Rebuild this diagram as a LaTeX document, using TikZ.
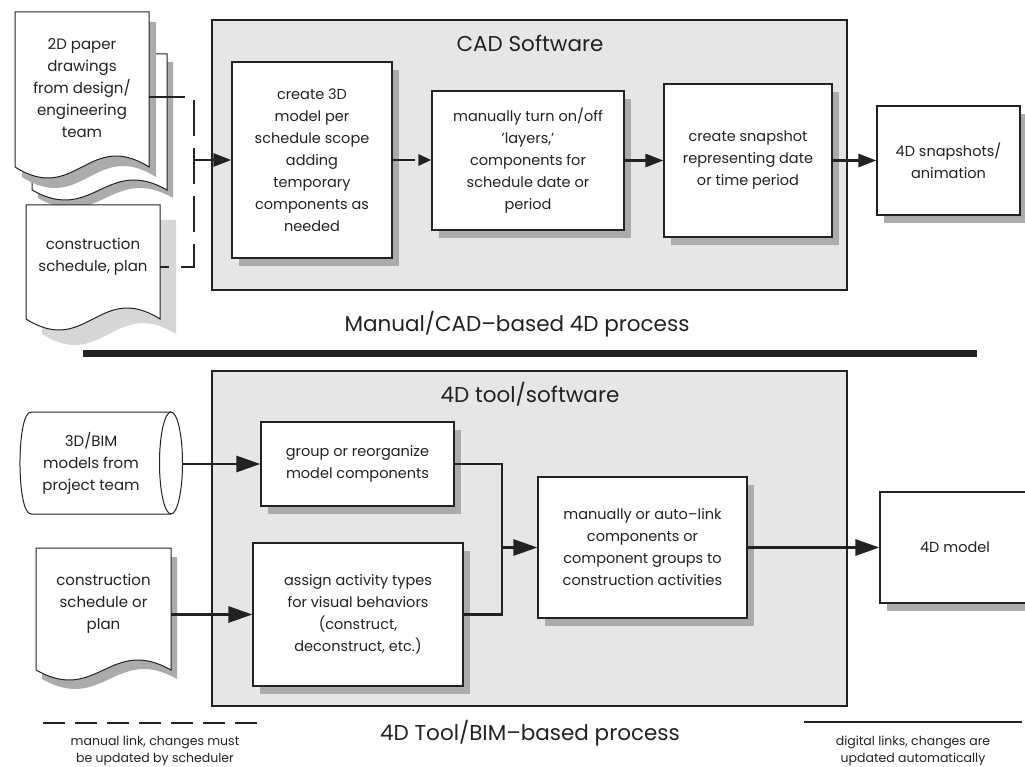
\documentclass[tikz,border=0pt]{standalone}
\usepackage{fontspec}
\setmainfont{Poppins}
\usetikzlibrary{arrows.meta,shadows,calc}
\definecolor{panel}{HTML}{E6E6E6}
\definecolor{shadowgray}{HTML}{ABABAB}
\definecolor{shadowlight}{HTML}{D6D6D6}
\definecolor{ink}{HTML}{222222}
% document outline: L, top, R, side-end y, amplitude
\newcommand\docpath[5]{(#1,#2) -- (#3,#2) -- (#3,#4) .. controls ({#3-0.45*(#3-#1)},{#4-3.46*#5}) and ({#1+0.45*(#3-#1)},{#4+3.46*#5}) .. (#1,#4) -- cycle}
\tikzset{
 box/.style={draw=ink, line width=1.2pt, fill=white, align=center, inner sep=0pt, text=ink,
   font=\fontsize{14.5}{22}\selectfont,
   drop shadow={shadow xshift=7pt, shadow yshift=-8pt, fill=shadowgray, opacity=1}},
 panelbox/.style={draw=ink, line width=1.2pt, fill=panel, inner sep=0pt},
 docshape/.style={draw=ink, line width=1pt, fill=white},
 conn/.style={draw=ink, line width=2.8pt},
 arr/.style={conn, -{Triangle[length=18pt,width=13pt]}},
 arrbig/.style={conn, -{Triangle[length=24pt,width=16pt]}},
 arrsmall/.style={conn, -{Triangle[length=13pt,width=11pt]}},
 manual/.style={dash pattern=on 22pt off 10pt},
 title/.style={text=ink, font=\fontsize{21.5}{25}\selectfont, inner sep=0pt},
 legend/.style={text=ink, font=\fontsize{12.5}{16.5}\selectfont, align=center, inner sep=0pt},
 doctext/.style={text=ink, font=\fontsize{15}{22}\selectfont, align=center, inner sep=0pt},
}
\begin{document}
\begin{tikzpicture}[x=1pt,y=-1pt]
\useasboundingbox (0,0) rectangle (1025,767);
\fill[white] (0,0) rectangle (1025,767);

% ---------- top: Manual/CAD-based ----------
\node[panelbox, minimum width=635pt, minimum height=270pt] (cadsw) at (529.5,155) {};
\node[title] (cadt) at (530,43) {CAD Software};

% documents
\fill[shadowgray] [shift={(6pt,-8pt)}] \docpath{32}{54}{167}{190}{10};
\draw[docshape] \docpath{32}{54}{167}{190}{10};
\fill[shadowgray] [shift={(7pt,-10pt)}] \docpath{15}{12}{149}{167}{11};
\draw[docshape] \docpath{15}{12}{149}{167}{11};
\node[doctext, minimum width=134pt] (d1) at (82,88) {2D paper\\drawings\\from design/\\engineering\\team};

\fill[shadowlight] [shift={(16pt,-15pt)}] \docpath{26}{205}{160}{319}{11};
\draw[docshape] \docpath{26}{205}{160}{319}{11};
\node[doctext, minimum width=134pt] (d2) at (93,257) {construction\\schedule, plan};

% process boxes
\node[box, minimum width=160pt, minimum height=196pt] (b1) at (312,160) {create 3D\\model per\\schedule scope\\adding\\temporary\\components as\\needed};
\node[box, minimum width=192pt, minimum height=139pt] (b2) at (528,160.5) {manually turn on/off\\'layers,'\\components for\\schedule date or\\period};
\node[box, minimum width=168pt, minimum height=153pt] (b3) at (748,160.5) {create snapshot\\representing date\\or time period};
\node[box, minimum width=143pt, minimum height=109pt] (b4) at (948.5,160.5) {4D snapshots/\\animation};

% connectors
\coordinate (jt) at (194,160);
\draw[conn, dash pattern=on 36pt off 12pt] ([yshift=-9pt]d1.east) -| (jt) |- ([yshift=-10pt]d2.east);
\draw[arr] (jt) -- (jt -| b1.west);
\draw[arrsmall, manual] (b1.east) -- (b1.east -| b2.west);
\draw[arr] (b2.east) -- (b2.east -| b3.west);
\draw[arr] (b3.east) -- (b3.east -| b4.west);

\node[title] (capt1) at (517,324) {Manual/CAD–based 4D process};
\draw[ink, line width=7pt] (83,353) -- (977,353);

% ---------- bottom: 4D tool/BIM-based ----------
\node[panelbox, minimum width=635pt, minimum height=335pt] (tool) at (529.5,538.5) {};
\node[title] (toolt) at (530,394) {4D tool/software};

% cylinder
\node[doctext, minimum width=163pt, minimum height=102pt] (cyl) at (101.5,463) {};
\fill[white] (171,412) -- (31,412) .. controls (16.3,412) and (16.3,514) .. (31,514) -- (171,514) -- cycle;
\draw[ink, line width=1pt] (171,412) -- (31,412) .. controls (16.3,412) and (16.3,514) .. (31,514) -- (171,514);
\draw[ink, line width=1pt, fill=white] (171,463) ellipse [x radius=11.5, y radius=51];
\node[doctext] (cylt) at (91,463) {3D/BIM\\models from\\project team};

% schedule document
\fill[shadowgray] [shift={(6pt,-9pt)}] \docpath{36}{548}{171}{670}{10};
\draw[docshape] \docpath{36}{548}{171}{670}{10};
\node[doctext, minimum width=135pt] (d3) at (103.5,604) {construction\\schedule or\\plan};

% boxes
\node[box, minimum width=193pt, minimum height=84pt] (grp) at (357.5,464) {group or reorganize\\model components};
\node[box, minimum width=210pt, minimum height=143pt] (asg) at (358,614.5) {assign activity types\\for visual behaviors\\(construct,\\deconstruct, etc.)};
\node[box, minimum width=209pt, minimum height=141pt] (lnk) at (642.5,547.5) {manually or auto–link\\components or\\component groups to\\construction activities};
\node[box, minimum width=150pt, minimum height=111pt] (m4d) at (955,547.5) {4D model};

% connectors
\coordinate (jb) at (502,547.5);
\draw[arrbig] (cyl.east |- grp.west) -- (grp.west);
\draw[arrbig] (d3.east |- asg.west) -- (asg.west);
\draw[conn] (grp.east) -| (jb);
\draw[conn] (asg.east) -| (jb);
\draw[arrbig] (jb) -- (lnk.west);
\draw[arrbig] (lnk.east) -- (lnk.east -| m4d.west);

\node[title] (capt2) at (530,733) {4D Tool/BIM–based process};

% legend
\coordinate (lm1) at (43,723);
\coordinate (lm2) at (267,723);
\draw[conn, manual] (lm1) -- (lm2);
\node[legend] (lmt) at (155,751) {manual link, changes must\\be updated by scheduler};
\coordinate (ld1) at (804,722);
\coordinate (ld2) at (1022,722);
\draw[ink, line width=1.2pt] (ld1) -- (ld2);
\node[legend] (ldt) at (913,751) {digital links, changes are\\updated automatically};
\end{tikzpicture}
\end{document}
